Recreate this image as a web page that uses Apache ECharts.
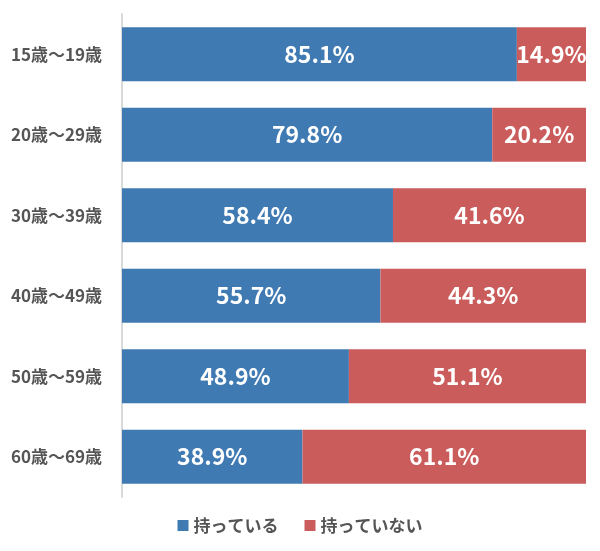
<!DOCTYPE html>
<html lang="ja">
<head>
<meta charset="UTF-8">
<title>持っている割合</title>
<script src="https://cdn.jsdelivr.net/npm/echarts@6/dist/echarts.min.js"></script>
<style>
  html, body { margin: 0; padding: 0; background: #fff; }
  #chart { width: 600px; height: 551px; }
</style>
</head>
<body>
<div id="chart"></div>
<script>
  // 年代ごとの割合 (%)
  var ages = ['15歳〜19歳', '20歳〜29歳', '30歳〜39歳', '40歳〜49歳', '50歳〜59歳', '60歳〜69歳'];
  var having = [85.1, 79.8, 58.4, 55.7, 48.9, 38.9];
  var notHaving = [14.9, 20.2, 41.6, 44.3, 51.1, 61.1];
  var seriesNames = ['持っている', '持っていない'];

  var chart = echarts.init(document.getElementById('chart'));
  var font = '"Noto Sans CJK JP", "Noto Sans", sans-serif';

  var barLabel = {
    show: true,
    position: 'inside',
    color: '#fff',
    fontSize: 23,
    fontWeight: 'bold',
    fontFamily: font,
    formatter: function (p) { return p.value.toFixed(1) + '%'; }
  };

  var option = {
    animation: false,
    textStyle: { fontFamily: font },
    grid: { left: 122, right: 14, top: 14, bottom: 54 },
    legend: {
      bottom: 12,
      left: 'center',
      itemWidth: 11,
      itemHeight: 11,
      itemGap: 26,
      icon: 'rect',
      textStyle: { color: '#555', fontSize: 17, fontWeight: 'bold', fontFamily: font },
      data: seriesNames
    },
    xAxis: {
      type: 'value',
      min: 0,
      max: 100,
      show: false
    },
    yAxis: {
      type: 'category',
      inverse: true,
      data: ages,
      axisLine: { show: true, lineStyle: { color: '#d9d9d9', width: 2 } },
      axisTick: { show: false },
      axisLabel: { color: '#555', fontSize: 17, fontWeight: 'bold', margin: 20, fontFamily: font }
    },
    series: [
      {
        name: seriesNames[0],
        type: 'bar',
        stack: 'total',
        barCategoryGap: '33%',
        itemStyle: { color: '#3f7ab3' },
        label: barLabel,
        data: having
      },
      {
        name: seriesNames[1],
        type: 'bar',
        stack: 'total',
        itemStyle: { color: '#cb5c5c' },
        label: barLabel,
        data: notHaving
      }
    ]
  };

  chart.setOption(option);
</script>
</body>
</html>
